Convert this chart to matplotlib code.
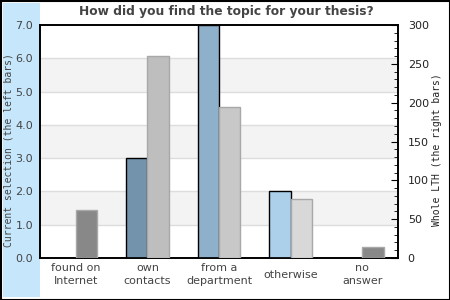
import numpy as np
import matplotlib.pyplot as plt
from matplotlib.patches import Rectangle

# ----------------------------------------------------------
# Data
# ----------------------------------------------------------
CATEGORIES = ["found on\nInternet", "own\ncontacts", "from a\ndepartment",
              "otherwise", "no\nanswer"]
CURRENT = [0.0, 3.0, 7.0, 2.0, 0.0]          # left axis
WHOLE_LTH = [62, 260, 195, 76, 14]            # right axis

LEFT_COLORS = ["#7393ad", "#7393ad", "#8fb0cb", "#acd0ea", "#7393ad"]
RIGHT_COLORS = ["#888888", "#bebebe", "#c8c8c8", "#d8d8d8", "#888888"]

TEXT = "#444444"

W, H = 450, 300
fig = plt.figure(figsize=(4.5, 3.0), dpi=100)
fig.patch.set_facecolor("white")

# light blue band on the left
fig.patches.append(Rectangle((3 / W, 3 / H), 37 / W, 294 / H,
                             transform=fig.transFigure, facecolor="#c6e6fb",
                             edgecolor="none", zorder=-2))
# outer border
fig.patches.append(Rectangle((0.5 / W, 0.5 / H), 449 / W, 299 / H,
                             transform=fig.transFigure, facecolor="none",
                             edgecolor="black", linewidth=1.5, zorder=5))

ax = fig.add_axes([40 / W, 42 / H, 358 / W, 233 / H])
ax2 = ax.twinx()

x = np.arange(len(CATEGORIES))
bw = 0.3

# alternating background bands and grid lines
for k in range(7):
    if k % 2 == 1:
        ax.axhspan(k, k + 1, color="#f3f3f3", zorder=0, lw=0)
for k in range(1, 7):
    ax.axhline(k, color="#dddddd", lw=1, zorder=0.5)

for i in range(len(CATEGORIES)):
    if CURRENT[i] > 0:
        ax.bar(x[i] - bw / 2, CURRENT[i], width=bw, color=LEFT_COLORS[i],
               edgecolor="black", linewidth=1, zorder=3)
    ax2.bar(x[i] + bw / 2, WHOLE_LTH[i], width=bw, color=RIGHT_COLORS[i],
            edgecolor="#a8a8a8", linewidth=1, zorder=3)

ax.set_xlim(-0.5, len(CATEGORIES) - 0.5)
ax.set_ylim(0, 7)
ax2.set_ylim(0, 300)

ax.set_yticks(np.arange(0, 8))
ax.set_yticklabels([f"{v:.1f}" for v in range(8)], color=TEXT, fontsize=8)
ax.tick_params(axis="y", length=0, pad=5)

ax2.set_yticks(np.arange(0, 301, 50))
ax2.set_yticks(np.arange(0, 301, 10), minor=True)
ax2.set_yticklabels([str(v) for v in range(0, 301, 50)], color="#222222",
                    fontsize=8)
ax2.tick_params(axis="y", which="major", direction="in", length=5, pad=7)
ax2.tick_params(axis="y", which="minor", direction="in", length=3)

ax.set_xticks(x)
ax.set_xticklabels([])
ax.tick_params(axis="x", length=0)
for i, lab in enumerate(CATEGORIES):
    ax.text(x[i], -0.5, lab, ha="center", va="center", fontsize=8,
            color=TEXT, linespacing=1.4, transform=ax.transData)

for a in (ax, ax2):
    for s in a.spines.values():
        s.set_color("black")
        s.set_linewidth(1.2)
ax2.patch.set_visible(False)

fig.text(9 / W, 150 / H, "Current selection (the left bars)", rotation=90,
         ha="center", va="center", fontsize=7, family="DejaVu Sans Mono",
         color=TEXT)
fig.text(437 / W, 150 / H, "Whole LTH (the right bars)", rotation=90,
         ha="center", va="center", fontsize=7, family="DejaVu Sans Mono",
         color="#222222")
fig.text(226 / W, 288 / H, "How did you find the topic for your thesis?",
         ha="center", va="center", fontsize=8.8, fontweight="bold",
         color=TEXT)

fig.savefig("out.png", dpi=100)
